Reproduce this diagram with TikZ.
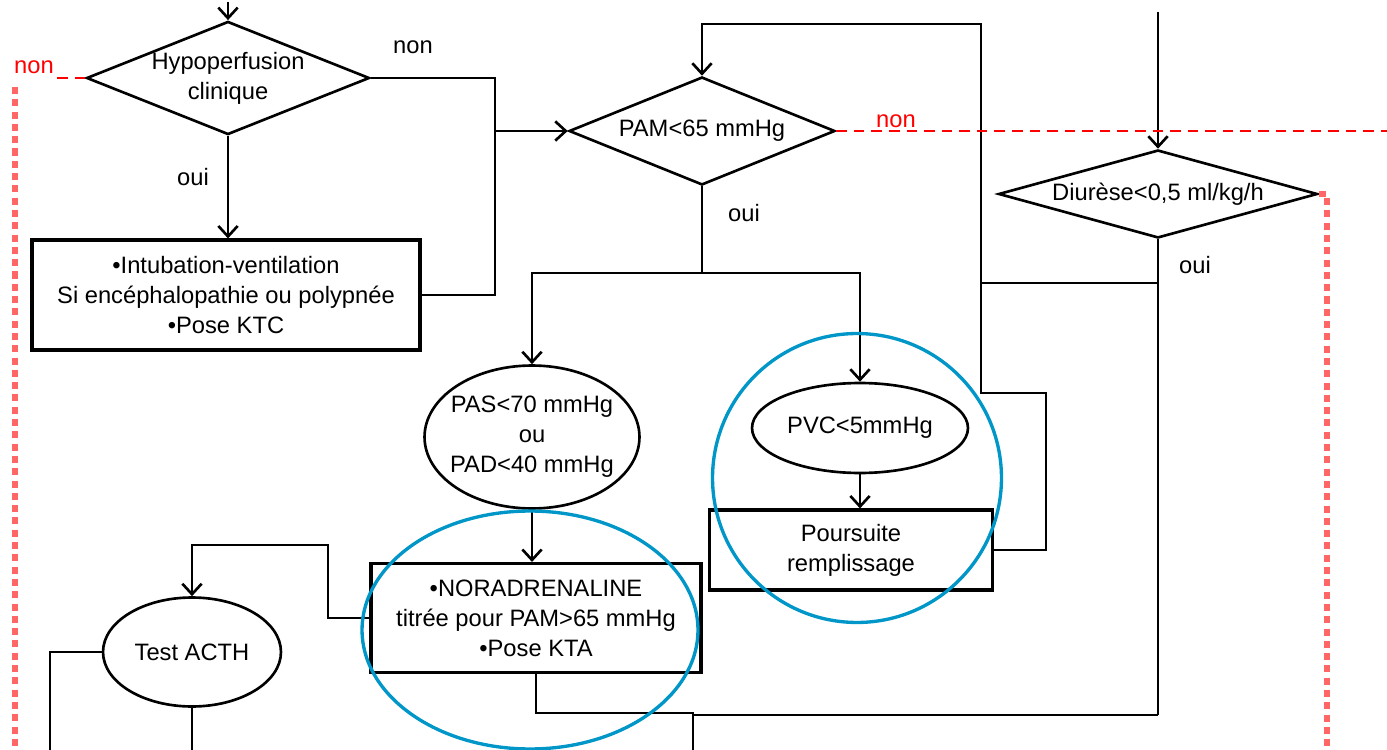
\documentclass[tikz,border=0pt]{standalone}
\usepackage{fontspec}
\setmainfont{Liberation Sans}
\usetikzlibrary{shapes.geometric, arrows.meta}
\definecolor{halo}{RGB}{0,150,200}

\begin{document}
\begin{tikzpicture}[x=0.02cm, y=-0.02cm, line width=1.5pt,
  >={Straight Barb[length=6pt, width=11pt]},
  every node/.style={font=\fontsize{13.5}{17}\selectfont, align=center},
  losange/.style={diamond, draw, inner sep=0pt},
  boite/.style={rectangle, draw, line width=1.8pt},
  bulle/.style={ellipse, draw, inner sep=0pt},
  entoure/.style={draw=halo, line width=1.9pt},
  rouge/.style={draw=red, dash pattern=on 6pt off 4pt},
  pointille/.style={draw=red!60, line width=3pt, dash pattern=on 4pt off 3pt}]

\useasboundingbox (0,0) rectangle (1387,750);

% Nodes

\node[losange, minimum width=5.6cm, minimum height=2.2cm, aspect=2.5] (H) at (228,78) {Hypoperfusion\\clinique};
\node[losange, minimum width=5.32cm, minimum height=2.16cm, aspect=2.5] (PAM) at (702,131) {PAM<65 mmHg};
\node[losange, minimum width=6.38cm, minimum height=1.76cm, aspect=3.6] (DIU) at (1158,194) {Diurèse<0,5 ml/kg/h};

\node[boite, minimum width=7.76cm, minimum height=2.2cm] (INT) at (226,295) {•Intubation-ventilation\\Si encéphalopathie ou polypnée\\•Pose KTC};
\node[bulle, minimum width=4.3cm, minimum height=2.86cm, inner xsep=-5pt] (PAS) at (532,437) {PAS<70 mmHg\\ou\\PAD<40 mmHg};
\node[bulle, minimum width=4.32cm, minimum height=1.8cm] (PVC) at (860,428) {PVC<5mmHg};
\node[boite, minimum width=6.6cm, minimum height=2.18cm] (NORA) at (536,618) {•NORADRENALINE\\titrée pour PAM>65 mmHg\\•Pose KTA};
\node[boite, minimum width=5.66cm, minimum height=1.6cm] (PR) at (851,550) {Poursuite\\remplissage};
\node[bulle, minimum width=3.56cm, minimum height=2.18cm] (ACTH) at (192,652) {Test ACTH};

\coordinate (hautH) at (228,2);
\coordinate (hautD) at (1158,12);
\coordinate (J) at (495,131);
\coordinate (F) at (702,273);

% Edges
\draw[->] (hautH) -- (H.north);
\draw[->] (H.south) -- (H.south |- INT.north);
\draw (H.east) -- (495,78) -- (J);
\draw (INT.east) -| (J);
\draw[->] (J) -- (PAM.west);

\draw (PAM.south) -- (F);
\draw[->] (F) -| (PAS.north);
\draw[->] (F) -| (PVC.north);
\draw[->] (PAS.south) -- (PAS.south |- NORA.north);
\draw[->] (PVC.south) -- (PVC.south |- PR.north);

\draw[->] (PR.east) -- (1046,550) -- (1046,393) -- (981,393) -- (981,24) -- (702,24) -- (PAM.north);
\draw (981,283) -- (1158,283);
\draw[->] (hautD) -- (DIU.north);
\draw (DIU.south) -- (1158,715);

\draw[->] (NORA.west) -- (328,618) -- (328,545) -- (192,545) -- (ACTH.north);
\draw (ACTH.west) -- (50,652) -- (50,750);
\draw (ACTH.south) -- (192,750);
\draw (NORA.south) -- (536,713) -- (693,713) -- (693,750);
\draw (693,715) -- (1158,715);

% Red branches
\draw[rouge] (H.west) -- (57,78);
\draw[pointille] (15,87) -- (15,750);
\draw[rouge] (PAM.east) -- (1387,131);
\draw[pointille] (DIU.east) -- (1327,194) -- (1327,750);

% Circles
\draw[entoure] (530,630) ellipse [x radius=3.36cm, y radius=2.38cm];
\draw[entoure] (857,478) circle [radius=2.89cm];

% Labels
\node[text=red] (nonH) at (34,67) {non};
\node[text=red] (nonP) at (896,121) {non};
\node (nonD) at (413,47) {non};
\node (ouiH) at (193,177) {oui};
\node (ouiP) at (744,213) {oui};
\node (ouiD) at (1195,265) {oui};

\end{tikzpicture}
\end{document}
